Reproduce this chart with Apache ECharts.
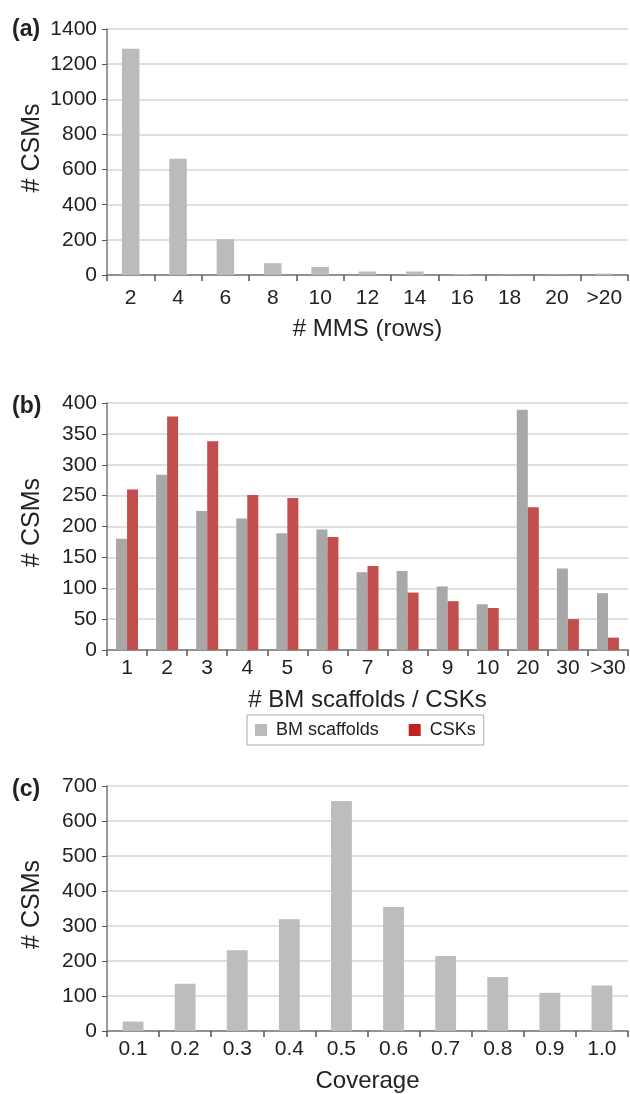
<!DOCTYPE html>
<html><head><meta charset="utf-8">
<script src="https://cdn.jsdelivr.net/npm/echarts@6/dist/echarts.min.js"></script>
<style>html,body{margin:0;padding:0;background:#fff}#c{width:630px;height:1094px}</style>
</head><body><div id="c"></div>
<script>
const catsA = ['2','4','6','8','10','12','14','16','18','20','>20'];
const valsA = [1287, 662, 204, 67, 46, 20, 20, 5, 2, 2, 8];
const ticksA = {min:0, max:1400, interval:200};

const catsB = ['1','2','3','4','5','6','7','8','9','10','20','30','>30'];
const bmB  = [180, 284, 225, 213, 189, 195, 126, 128, 103, 74, 389, 132, 92];
const cskB = [260, 378, 338, 251, 246, 183, 136, 93, 79, 68, 231, 50, 20];
const ticksB = {min:0, max:400, interval:50};

const catsC = ['0.1','0.2','0.3','0.4','0.5','0.6','0.7','0.8','0.9','1.0'];
const valsC = [27, 135, 231, 319, 657, 354, 214, 154, 109, 130];
const ticksC = {min:0, max:700, interval:100};

const FONT = 'Liberation Sans, Arial, sans-serif';
const chart = echarts.init(document.getElementById('c'), null, {renderer:'canvas'});

function xAx(i, cats, name, margin, gap){
  return {type:'category', gridIndex:i, data:cats, boundaryGap:true,
    name:name, nameLocation:'middle', nameGap:gap, nameMoveOverlap:false,
    nameTextStyle:{fontFamily:FONT, fontSize:24, color:'#222'},
    axisLine:{lineStyle:{color:'#777', width:1.5}},
    axisTick:{show:true, length:6, interval:0, lineStyle:{color:'#555', width:1.5}},
    axisLabel:{interval:0, margin:margin, fontFamily:FONT, fontSize:21, color:'#222'}};
}
function yAx(i, t){
  return {type:'value', gridIndex:i, min:t.min, max:t.max, interval:t.interval,
    name:'# CSMs', nameLocation:'middle', nameGap:62, nameMoveOverlap:false,
    nameTextStyle:{fontFamily:FONT, fontSize:25, color:'#222', padding:[0,0,0,8]},
    axisLine:{show:true, lineStyle:{color:'#777', width:1.5}},
    axisTick:{show:true, length:5, lineStyle:{color:'#555'}},
    splitLine:{lineStyle:{color:'#d6d6d6', width:1.5}},
    axisLabel:{margin:10, fontFamily:FONT, fontSize:21, color:'#222',
      formatter:function(v){return String(v);}}};
}

chart.setOption({
  animation:false,
  backgroundColor:'#fff',
  title:[
    {text:'(a)', left:12, top:18, padding:0, textStyle:{fontFamily:FONT, fontSize:23, fontWeight:'bold', color:'#222'}},
    {text:'(b)', left:12, top:395, padding:0, textStyle:{fontFamily:FONT, fontSize:23, fontWeight:'bold', color:'#222'}},
    {text:'(c)', left:12, top:778, padding:0, textStyle:{fontFamily:FONT, fontSize:23, fontWeight:'bold', color:'#222'}}
  ],
  legend:{left:247, top:715, orient:'horizontal', itemWidth:12, itemHeight:12, itemGap:30,
    padding:[6,8,6,8], borderColor:'#aaa', borderWidth:1, icon:'rect',
    textStyle:{fontFamily:FONT, fontSize:18, color:'#222', padding:[0,0,0,4]},
    data:[{name:'BM scaffolds', itemStyle:{color:'#bbbbbb'}}, {name:'CSKs', itemStyle:{color:'#c0221d'}}]},
  grid:[
    {left:107, top:29, width:521, height:246},
    {left:107, top:403, width:521, height:247},
    {left:107, top:786, width:521, height:247}
  ],
  xAxis:[xAx(0, catsA, '# MMS (rows)', 13, 42), xAx(1, catsB, '# BM scaffolds / CSKs', 8, 38), xAx(2, catsC, 'Coverage', 8, 38)],
  yAxis:[yAx(0, ticksA), yAx(1, ticksB), yAx(2, ticksC)],
  series:[
    {type:'bar', xAxisIndex:0, yAxisIndex:0, data:valsA, barWidth:'37%', itemStyle:{color:'#bbbbbb'}},
    {name:'BM scaffolds', type:'bar', xAxisIndex:1, yAxisIndex:1, data:bmB, barWidth:11, barGap:'0%', itemStyle:{color:'#a8a8a8'}},
    {name:'CSKs', type:'bar', xAxisIndex:1, yAxisIndex:1, data:cskB, barWidth:11, barGap:'0%', itemStyle:{color:'#c24f4e'}},
    {type:'bar', xAxisIndex:2, yAxisIndex:2, data:valsC, barWidth:'40%', itemStyle:{color:'#bdbdbd'}}
  ]
});
</script></body></html>
